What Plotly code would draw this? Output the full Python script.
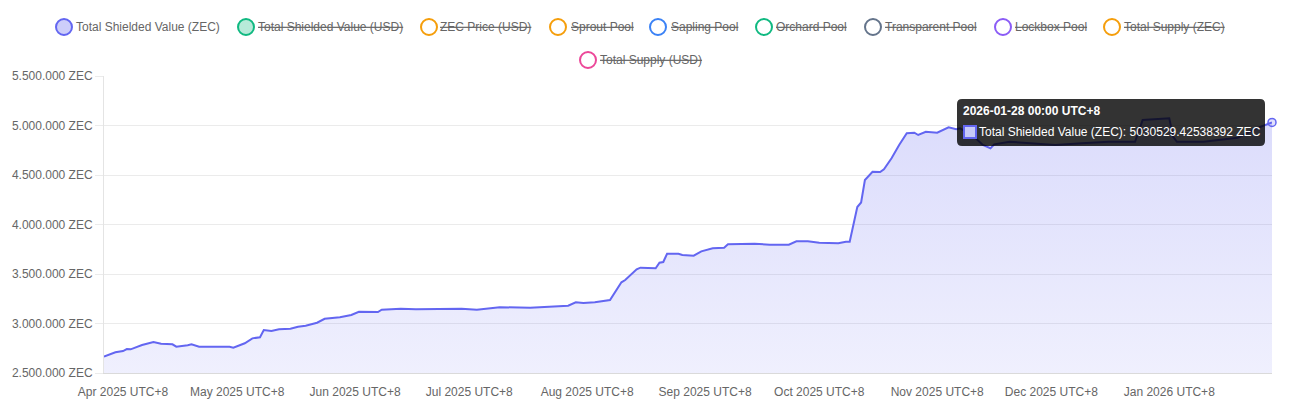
import plotly.graph_objects as go

# Total Shielded Value (ZEC), one sample per visible kink
dates = [
    "2025-03-27", "2025-03-30", "2025-04-01", "2025-04-02", "2025-04-03", "2025-04-05",
    "2025-04-06", "2025-04-09", "2025-04-11", "2025-04-14", "2025-04-15", "2025-04-18",
    "2025-04-19", "2025-04-21", "2025-04-26", "2025-04-29", "2025-04-30", "2025-05-03",
    "2025-05-05", "2025-05-07", "2025-05-08", "2025-05-10", "2025-05-12", "2025-05-15",
    "2025-05-17", "2025-05-19", "2025-05-22", "2025-05-24", "2025-05-28", "2025-05-31",
    "2025-06-02", "2025-06-07", "2025-06-08", "2025-06-13", "2025-06-17", "2025-06-21",
    "2025-06-25", "2025-06-29", "2025-07-03", "2025-07-09", "2025-07-17", "2025-07-21",
    "2025-07-27", "2025-07-29", "2025-07-31", "2025-08-03", "2025-08-07", "2025-08-10",
    "2025-08-11", "2025-08-14", "2025-08-15", "2025-08-19", "2025-08-20", "2025-08-21",
    "2025-08-22", "2025-08-25", "2025-08-26", "2025-08-29", "2025-08-31", "2025-09-03",
    "2025-09-06", "2025-09-07", "2025-09-12", "2025-09-14", "2025-09-18", "2025-09-23",
    "2025-09-25", "2025-09-28", "2025-10-01", "2025-10-06", "2025-10-08", "2025-10-09",
    "2025-10-11", "2025-10-12", "2025-10-13", "2025-10-15", "2025-10-17", "2025-10-18",
    "2025-10-20", "2025-10-22", "2025-10-24", "2025-10-26", "2025-10-27", "2025-10-29",
    "2025-11-01", "2025-11-04", "2025-11-06", "2025-11-07", "2025-11-10", "2025-11-13",
    "2025-11-15", "2025-11-16", "2025-11-20", "2025-11-26", "2025-12-02", "2025-12-09",
    "2025-12-16", "2025-12-23", "2025-12-25", "2026-01-01", "2026-01-02", "2026-01-03",
    "2026-01-10", "2026-01-19", "2026-01-24", "2026-01-28",
]
shielded_zec = [
    2665000, 2709000, 2722000, 2742000, 2739000, 2766000,
    2783000, 2813000, 2796000, 2790000, 2766000, 2780000,
    2790000, 2766000, 2770000, 2766000, 2756000, 2800000,
    2850000, 2861000, 2934000, 2924000, 2941000, 2947000,
    2968000, 2978000, 3008000, 3048000, 3063000, 3086000,
    3119000, 3116000, 3139000, 3149000, 3143000, 3143000,
    3143000, 3149000, 3139000, 3164000, 3160000, 3170000,
    3180000, 3214000, 3207000, 3214000, 3237000, 3416000,
    3439000, 3547000, 3564000, 3558000, 3614000, 3621000,
    3705000, 3705000, 3692000, 3685000, 3729000, 3760000,
    3766000, 3800000, 3803000, 3806000, 3796000, 3796000,
    3830000, 3830000, 3816000, 3810000, 3826000, 3826000,
    4177000, 4222000, 4449000, 4533000, 4530000, 4558000,
    4669000, 4803000, 4921000, 4927000, 4904000, 4937000,
    4927000, 4982000, 4962000, 4972000, 4911000, 4803000,
    4770000, 4810000, 4836000, 4820000, 4803000, 4820000,
    4836000, 4836000, 5055000, 5073000, 4887000, 4836000,
    4836000, 4877000, 4972000, 5030529.42538392,
]

series_names = [
    "Total Shielded Value (ZEC)", "Total Shielded Value (USD)", "ZEC Price (USD)",
    "Sprout Pool", "Sapling Pool", "Orchard Pool", "Transparent Pool",
    "Lockbox Pool", "Total Supply (ZEC)", "Total Supply (USD)",
]
series_hidden = [False, True, True, True, True, True, True, True, True, True]

# legend look: border colour, fill colour
legend_style = [
    ("#6366f1", "rgba(99,102,241,0.32)"),
    ("#10b981", "rgba(16,185,129,0.3)"),
    ("#f59e0b", "rgba(255,255,255,0)"),
    ("#f59e0b", "rgba(255,255,255,0)"),
    ("#3b82f6", "rgba(255,255,255,0)"),
    ("#10b981", "rgba(255,255,255,0)"),
    ("#64748b", "rgba(255,255,255,0)"),
    ("#8b5cf6", "rgba(255,255,255,0)"),
    ("#f59e0b", "rgba(255,255,255,0)"),
    ("#ec4899", "rgba(255,255,255,0)"),
]
# circle centre x, text start x, row centre y (pixels)
legend_pos = [
    (64, 76, 27), (246, 258, 27), (429, 440, 27), (558, 571, 27), (658, 671, 27),
    (764, 776, 27), (873, 885, 27), (1003, 1015, 27), (1112, 1124, 27), (588, 600, 60),
]

W, H = 1292, 420
ML, MR, MT, MB = 104, 20, 76, 47
PW, PH = W - ML - MR, H - MT - MB


def px(x):
    return (x - ML) / PW


def py(y):
    return (H - MB - y) / PH


LINE = "#6366f1"
FONT = "Liberation Sans, Arial, sans-serif"

fig = go.Figure()

fig.add_trace(go.Scatter(
    x=dates,
    y=shielded_zec,
    mode="lines",
    line=dict(color=LINE, width=2),
    fill="tozeroy",
    fillgradient=dict(
        type="vertical",
        start=2500000,
        stop=5500000,
        colorscale=[[0, "rgba(99,102,241,0.10)"], [1, "rgba(99,102,241,0.25)"]],
    ),
    name=series_names[0],
    hoverinfo="skip",
))

# hovered point at the last sample
fig.add_trace(go.Scatter(
    x=[dates[-1]],
    y=[shielded_zec[-1]],
    mode="markers",
    marker=dict(size=8, color="rgba(99,102,241,0.2)", line=dict(color=LINE, width=1.5)),
    cliponaxis=False,
    hoverinfo="skip",
))

shapes = []
annotations = []

# legend drawn by hand so rows centre the way the original does
for name, hidden, (border, fill), (cx, tx, ry) in zip(series_names, series_hidden, legend_style, legend_pos):
    shapes.append(dict(
        type="circle", xref="paper", yref="paper",
        xsizemode="pixel", ysizemode="pixel",
        xanchor=px(cx), yanchor=py(ry),
        x0=-8, x1=8, y0=-8, y1=8,
        line=dict(color=border, width=2), fillcolor=fill,
    ))
    annotations.append(dict(
        xref="paper", yref="paper", x=px(tx - 2), y=py(ry),
        xanchor="left", yanchor="middle", showarrow=False,
        text=f"<s>{name}</s>" if hidden else name,
        font=dict(family=FONT, size=12, color="#666"),
    ))

# tooltip box
x0, x1, y0, y1 = px(957), px(1265), py(146), py(99)
rx, ry = 5 / PW, 5 / PH
path = (
    f"M {x0 + rx},{y1} L {x1 - rx},{y1} Q {x1},{y1} {x1},{y1 - ry} "
    f"L {x1},{y0 + ry} Q {x1},{y0} {x1 - rx},{y0} L {x0 + rx},{y0} "
    f"Q {x0},{y0} {x0},{y0 + ry} L {x0},{y1 - ry} Q {x0},{y1} {x0 + rx},{y1} Z"
)
shapes.append(dict(
    type="path", xref="paper", yref="paper", path=path, layer="above",
    fillcolor="rgba(0,0,0,0.8)", line=dict(width=0),
))
shapes.append(dict(
    type="rect", xref="paper", yref="paper", layer="above",
    x0=px(964), x1=px(976), y0=py(138), y1=py(126),
    fillcolor="rgba(200,202,248,1)", line=dict(color=LINE, width=2),
))
annotations.append(dict(
    xref="paper", yref="paper", x=px(961), y=py(111.5),
    xanchor="left", yanchor="middle", showarrow=False,
    text=f"<b>{dates[-1]} 00:00 UTC+8</b>",
    font=dict(family=FONT, size=12, color="#fff"),
))
annotations.append(dict(
    xref="paper", yref="paper", x=px(977), y=py(132),
    xanchor="left", yanchor="middle", showarrow=False,
    text=f"{series_names[0]}: {shielded_zec[-1]} ZEC",
    font=dict(family=FONT, size=12, color="#fff"),
))

fig.update_layout(
    width=W,
    height=H,
    margin=dict(l=ML, r=MR, t=MT, b=MB),
    paper_bgcolor="white",
    plot_bgcolor="white",
    showlegend=False,
    separators=",.",
    font=dict(family=FONT, size=12, color="#666"),
    shapes=shapes,
    annotations=annotations,
    xaxis=dict(
        type="date",
        range=[dates[0], dates[-1]],
        tick0="2025-04-01",
        dtick="M1",
        tickformat="%b %Y UTC+8",
        showgrid=False,
        zeroline=False,
        showline=True,
        linecolor="#dadada",
        ticks="outside",
        ticklen=8,
        tickcolor="rgba(0,0,0,0)",
        automargin=False,
    ),
    yaxis=dict(
        range=[2500000, 5500000],
        tick0=0,
        dtick=500000,
        tickformat=",.0f",
        ticksuffix=" ZEC",
        gridcolor="#ebebeb",
        zeroline=False,
        showline=True,
        linecolor="#e4e4e4",
        ticks="outside",
        ticklen=8,
        tickcolor="#ebebeb",
        automargin=False,
    ),
)

# page body has an 8px default margin; drop it so the figure sits at 0,0
fig.write_html(
    "out.html",
    config={"displayModeBar": False},
    post_script="document.body.style.margin='0';",
)
